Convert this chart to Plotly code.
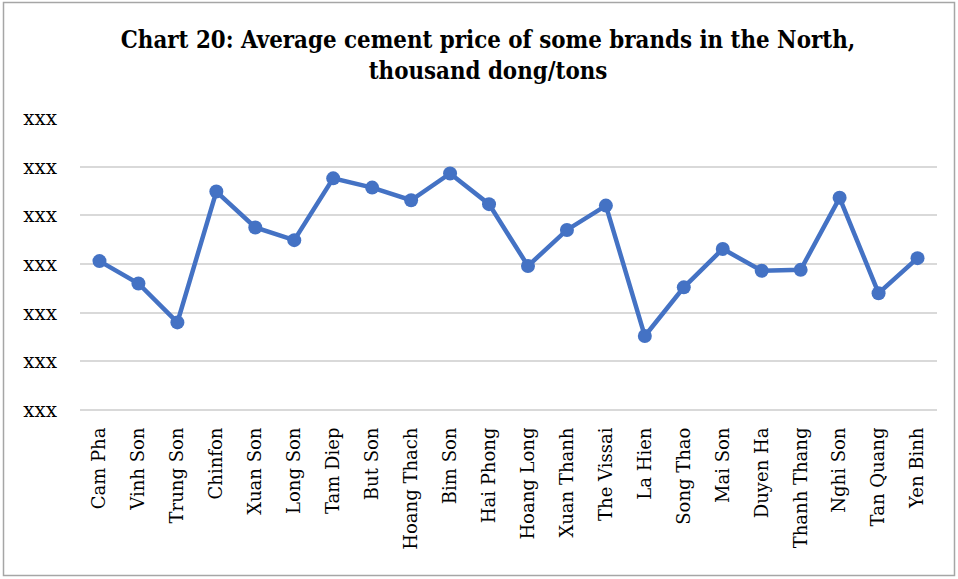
import plotly.graph_objects as go

brands = ["Cam Pha", "Vinh Son", "Trung Son", "Chinfon", "Xuan Son", "Long Son",
          "Tam Diep", "But Son", "Hoang Thach", "Bim Son", "Hai Phong", "Hoang Long",
          "Xuan Thanh", "The Vissai", "La Hien", "Song Thao", "Mai Son", "Duyen Ha",
          "Thanh Thang", "Nghi Son", "Tan Quang", "Yen Binh"]
prices = [3.06, 2.60, 1.80, 4.49, 3.75, 3.49, 4.76, 4.57, 4.31, 4.86, 4.23, 2.96,
          3.70, 4.20, 1.52, 2.52, 3.31, 2.86, 2.88, 4.36, 2.40, 3.12]
ytick_vals = [0, 1, 2, 3, 4, 5, 6]
ytick_text = ["xxx"] * 7

W, H = 958, 579
ml, mr, mt, mb = 80, 21, 118, 169
pw, ph = W - ml - mr, H - mt - mb

fig = go.Figure(go.Scatter(
    x=brands, y=prices, mode="lines+markers",
    line=dict(color="#4472C4", width=4.5),
    marker=dict(color="#4472C4", size=14),
))

fig.update_layout(
    width=W, height=H,
    margin=dict(l=ml, r=mr, t=mt, b=mb),
    paper_bgcolor="white", plot_bgcolor="white",
    showlegend=False,
    title=dict(
        text="<b>Chart 20: Average cement price of some brands in the North,<br>thousand dong/tons</b>",
        x=488 / W, xanchor="center", y=1 - 48 / H, yanchor="top",
        font=dict(family="DejaVu Serif Condensed, Liberation Serif", size=23.8, color="black"),
    ),
    font=dict(family="DejaVu Serif", color="black"),
)
fig.update_xaxes(
    type="category", range=[-0.5, len(brands) - 0.5],
    tickangle=-90, tickfont=dict(size=18, family="DejaVu Serif"),
    showgrid=False, showline=False, zeroline=False,
    ticklabelstandoff=13,
)
fig.update_yaxes(
    range=[0, 6], tickvals=ytick_vals, ticktext=ytick_text,
    tickfont=dict(size=20, family="DejaVu Serif"),
    showgrid=True, gridcolor="#D9D9D9", gridwidth=1.5,
    zeroline=True, zerolinecolor="#D9D9D9", zerolinewidth=1.5,
    showline=False, ticklabelstandoff=22,
)
# outer chart border
fig.add_shape(
    type="rect", xref="paper", yref="paper",
    x0=(3.5 - ml) / pw, x1=(W - 3.5 - ml) / pw,
    y0=-(H - 3.5 - mt - ph) / ph, y1=1 + (mt - 2.5) / ph,
    line=dict(color="#A6A6A6", width=1.5), fillcolor="rgba(0,0,0,0)", layer="below",
)
fig.write_html("out.html", config={"displayModeBar": False},
               post_script="document.body.style.margin='0px';")
